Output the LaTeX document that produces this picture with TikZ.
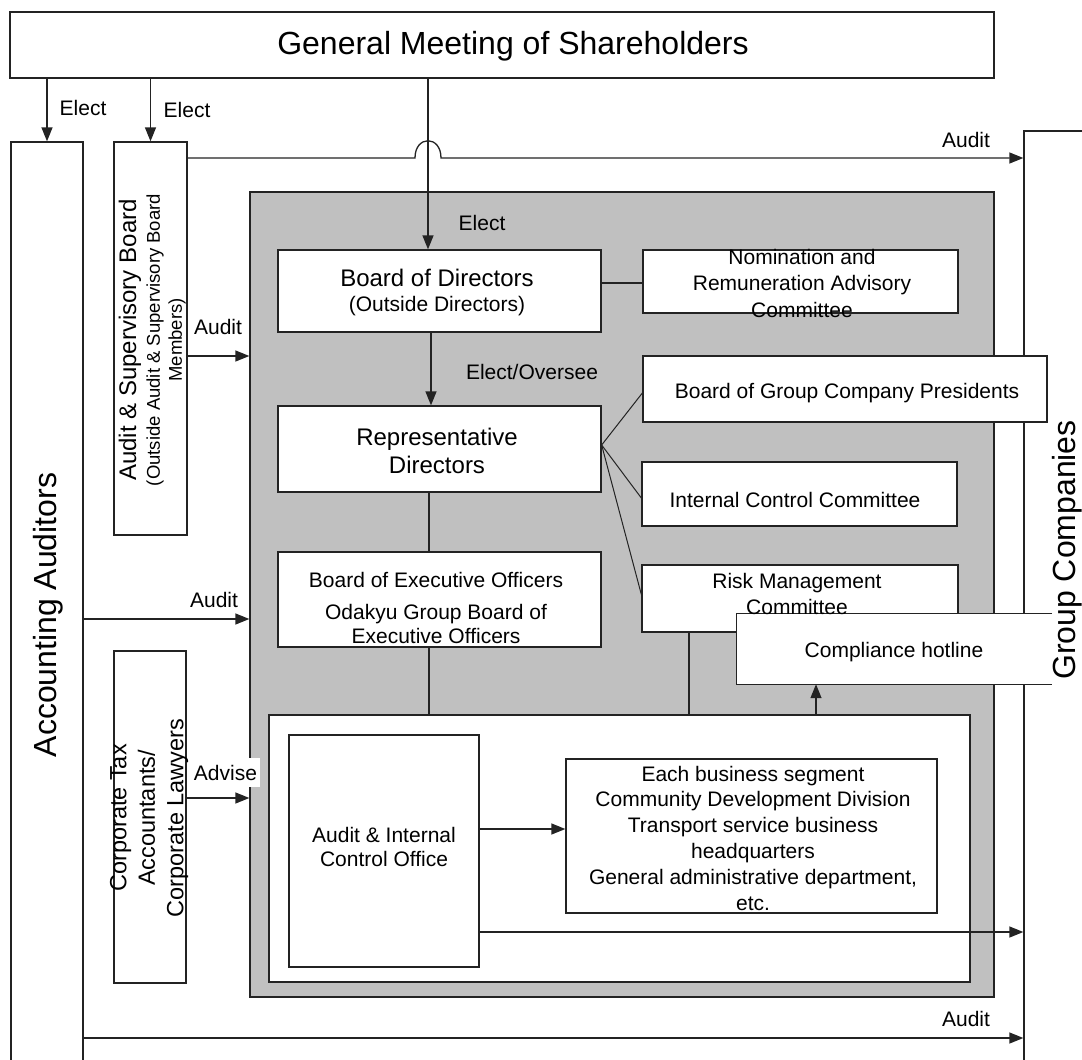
\documentclass[tikz,border=0pt]{standalone}
\usepackage{fontspec}
\setmainfont{Liberation Sans}
\usetikzlibrary{arrows.meta,calc}
\definecolor{ln}{RGB}{35,35,35}
\definecolor{panel}{RGB}{192,192,192}

\begin{document}
\begin{tikzpicture}[x=1pt,y=-1pt,
  box/.style={draw=ln,fill=white,line width=1.3pt,inner sep=0pt,rectangle},
  wire/.style={draw=ln,line width=1.3pt},
  arr/.style={wire,-{Triangle[length=14pt,width=11pt]}},
  fanwire/.style={draw=ln,line width=1pt},
  lbl/.style={font=\fontsize{21}{25}\selectfont,inner sep=0pt},
  txt/.style={font=\fontsize{21}{26}\selectfont,inner sep=0pt,align=center},
  mid/.style={font=\fontsize{24}{28}\selectfont,inner sep=0pt,align=center},
  big/.style={font=\fontsize{32}{36}\selectfont,inner sep=0pt}
]
\useasboundingbox (0,0) rectangle (1082,1060);
\clip (0,0) rectangle (1082,1060);

% outer frames
\node[box,minimum width=984pt,minimum height=66pt] (gm) at (502,45) {};
\node[box,minimum width=72pt,minimum height=938pt] (acc) at (47,611) {};
\node[box,minimum width=73pt,minimum height=393pt] (as) at (150.5,338.5) {};
\node[box,minimum width=76pt,minimum height=949pt] (gc) at (1062,605.5) {};
\node[box,minimum width=72pt,minimum height=332pt] (ct) at (150,817) {};

% grey company panel
\node[box,fill=panel,minimum width=744pt,minimum height=805pt] (gray) at (622,594.5) {};

% boxes inside the panel
\node[box,minimum width=323pt,minimum height=82pt] (bod) at (439.5,291) {};
\node[box,minimum width=315pt,minimum height=63pt] (nom) at (800.5,281.5) {};
\node[box,minimum width=404pt,minimum height=66pt] (bgcp) at (845,389) {};
\node[box,minimum width=323pt,minimum height=86pt] (rep) at (439.5,449) {};
\node[box,minimum width=315pt,minimum height=64pt] (icc) at (799.5,494) {};
\node[box,minimum width=323pt,minimum height=95pt] (exec) at (439.5,599.5) {};
\node[box,minimum width=316pt,minimum height=67pt] (risk) at (800,598.5) {};
\node[draw=none,fill=white,inner sep=0pt,minimum width=315pt,minimum height=70pt] (comp) at (894.5,649) {};
\draw[wire] (comp.north east) -- (comp.north west) -- (comp.south west) -- (comp.south east);
\node[box,minimum width=701pt,minimum height=267pt] (inner) at (619.5,848.5) {};
\node[box,minimum width=190pt,minimum height=232pt] (ao) at (384,851) {};
\node[box,minimum width=371pt,minimum height=154pt] (bs) at (751.5,836) {};

% texts
\node[big] (gmT) at (513,46) {General Meeting of Shareholders};
\node[big,rotate=90] (accT) at (48,615) {Accounting Auditors};
\node[big,rotate=90] (gcT) at (1067,550) {Group Companies};
\node[mid,rotate=90] (asT1) at (130,340) {Audit \& Supervisory Board};
\node[rotate=90,font=\fontsize{18.5}{22}\selectfont,inner sep=0pt,align=center] (asT2) at (166,340)
  {(Outside Audit \& Supervisory Board\\Members)};
\node[rotate=90,font=\fontsize{23.5}{28.5}\selectfont,inner sep=0pt,align=center] (ctT) at (149,818)
  {Corporate Tax\\Accountants/\\Corporate Lawyers};
\node[mid] (bodT1) at (437,278) {Board of Directors};
\node[txt] (bodT2) at (437,306) {(Outside Directors)};
\node[mid] (repT) at (437,451) {Representative\\Directors};
\node[txt] (exT1) at (436,580) {Board of Executive Officers};
\node[txt,font=\fontsize{21}{24}\selectfont] (exT2) at (436,624) {Odakyu Group Board of\\Executive Officers};
\node[txt,font=\fontsize{21}{26.5}\selectfont] (nomT) at (802,283) {Nomination and\\Remuneration Advisory\\Committee};
\node[txt] (bgT) at (847,393) {Board of Group Company Presidents};
\node[txt] (icT) at (795,500) {Internal Control Committee};
\node[txt] (rmT) at (797,594) {Risk Management\\Committee};
\node[txt] (chT) at (894,652) {Compliance hotline};
\node[txt,font=\fontsize{21}{24}\selectfont] (aoT) at (384,847) {Audit \& Internal\\Control Office};
\node[txt,font=\fontsize{21}{25.8}\selectfont] (bsT) at (753,838)
  {Each business segment\\Community Development Division\\Transport service business\\headquarters\\General administrative department,\\etc.};

% reference positions for connectors
\coordinate (xElect) at (428,0);
\coordinate (xER) at (431,0);
\coordinate (xEx) at (429,0);
\coordinate (xR) at (689,0);
\coordinate (xC) at (816,0);
\coordinate (yTop) at (0,158);
\coordinate (yN) at (0,283);
\coordinate (yAS) at (0,356);
\coordinate (yAcc) at (0,619);
\coordinate (yAdv) at (0,798);
\coordinate (yBs) at (0,829);
\coordinate (yGc) at (0,932);
\coordinate (yBot) at (0,1038);
\coordinate (hopL) at (415,158);
\coordinate (hopR) at (441,158);
\coordinate (fan) at ($(rep.east)+(0,-4)$);

% connectors
\draw[arr] (gm.south -| acc.north) -- (acc.north);
\draw[arr] (gm.south -| as.north) -- (as.north);
\draw[arr] (gm.south -| xElect) -- (bod.north -| xElect);
\draw[arr] (as.east |- yTop) -- (hopL) .. controls ($(hopL)+(0,-23)$) and ($(hopR)+(0,-23)$) .. (hopR) -- (gc.west |- yTop);
\draw[arr] (as.east |- yAS) -- (gray.west |- yAS);
\draw[arr] (acc.east |- yAcc) -- (gray.west |- yAcc);
\draw[arr] (ct.east |- yAdv) -- (gray.west |- yAdv);
\draw[arr] (acc.east |- yBot) -- (gc.west |- yBot);
\draw[wire] (bod.east |- yN) -- (nom.west |- yN);
\draw[arr] (bod.south -| xER) -- (rep.north -| xER);
\draw[fanwire] (fan) -- ($(bgcp.west)+(0,4)$);
\draw[fanwire] (fan) -- ($(icc.west)+(0,4)$);
\draw[fanwire] (fan) -- ($(risk.west)+(0,-4)$);
\draw[wire] (rep.south -| xEx) -- (exec.north -| xEx);
\draw[wire] (exec.south -| xEx) -- (inner.north -| xEx);
\draw[wire] (risk.south -| xR) -- (inner.north -| xR);
\draw[arr] (inner.north -| xC) -- (comp.south -| xC);
\draw[arr] (ao.east |- yBs) -- (bs.west |- yBs);
\draw[arr] (ao.east |- yGc) -- (gc.west |- yGc);

% connector labels
\node[lbl] (lE1) at (83,108) {Elect};
\node[lbl] (lE2) at (187,110) {Elect};
\node[lbl] (lE3) at (482,223) {Elect};
\node[lbl] (lA1) at (966,140) {Audit};
\node[lbl] (lA2) at (218,327) {Audit};
\node[lbl] (lA3) at (214,600) {Audit};
\node[lbl] (lA4) at (966,1019) {Audit};
\node[lbl] (lEO) at (532,372) {Elect/Oversee};
\node[lbl,fill=white,minimum width=69pt,minimum height=29pt] (lAdv) at (225.5,772.5) {Advise};
\end{tikzpicture}
\end{document}
